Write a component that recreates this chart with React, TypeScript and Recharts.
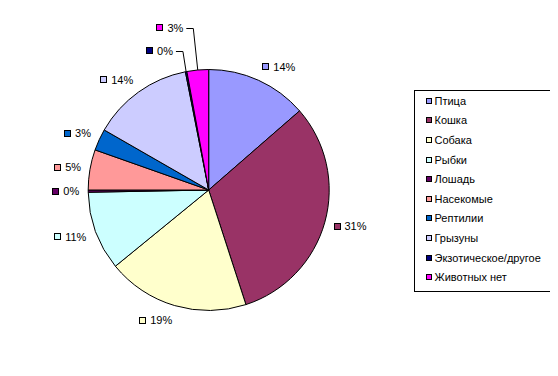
import { PieChart, Pie, Cell, Legend } from 'recharts';

const categories = ['Птица', 'Кошка', 'Собака', 'Рыбки', 'Лошадь', 'Насекомые', 'Рептилии', 'Грызуны', 'Экзотическое/другое', 'Животных нет'];
const shares = [13.6, 31.4, 19.1, 10.6, 0.3, 5.4, 2.9, 13.6, 0.2, 2.9];
const colors = ['#9999FF', '#993366', '#FFFFCC', '#CCFFFF', '#660066', '#FF9999', '#0066CC', '#CCCCFF', '#000080', '#FF00FF'];

const data = categories.map((name, i) => ({ name, value: shares[i] }));

// two labels were dragged off the pie in the original, with a leader line back
const moved: Record<number, [number, number]> = { 8: [-11.5, -6], 9: [-13.6, -27.5] };

const FONT = '"Liberation Sans", Arial, sans-serif';
const RAD = Math.PI / 180;
const textW = (s: string) => [...s].reduce((w, c) => w + (c === '%' ? 9.8 : 6.1), 0);

function PctLabel(props: any) {
  const { cx, cy, midAngle, outerRadius, percent, index } = props;
  const dx = Math.cos(-midAngle * RAD);
  const dy = Math.sin(-midAngle * RAD);
  const r = outerRadius + 9;
  const px = cx + r * dx;
  const py = cy + r * dy;
  const text = `${Math.round(percent * 100)}%`;
  const boxW = 11 + textW(text);
  let left = dx >= 0 ? px : px - boxW;
  let midY = py + dy * 6;
  let leader = null;
  const shift = moved[index];
  if (shift) {
    left += shift[0];
    midY += shift[1];
    const end = left + boxW;
    leader = (
      <polyline
        points={`${end + 3},${Math.round(midY) + 0.5} ${end + 10},${Math.round(midY) + 0.5} ${cx + outerRadius * dx},${cy + outerRadius * dy}`}
        fill="none"
        stroke="#000"
      />
    );
  }
  return (
    <g>
      {leader}
      <rect x={Math.round(left) + 0.5} y={Math.round(midY - 3.5) + 0.5} width={6} height={6} fill={colors[index]} stroke="#000" />
      <text x={left + 11} y={midY + 4} fontSize={11} fontFamily={FONT} fill="#000">{text}</text>
    </g>
  );
}

function LegendBox() {
  return (
    <div style={{ width: 139, height: 202, boxSizing: 'border-box', border: '1px solid #000', background: '#fff', fontFamily: FONT, fontSize: 11, color: '#000' }}>
      {categories.map((c, i) => (
        <div key={c} style={{ height: 19.6, display: 'flex', alignItems: 'center' }}>
          <span style={{ width: 6, height: 6, boxSizing: 'border-box', border: '1px solid #000', background: colors[i], marginLeft: 11, flexShrink: 0 }} />
          <span style={{ marginLeft: 2.5, whiteSpace: 'nowrap' }}>{c}</span>
        </div>
      ))}
    </div>
  );
}

export default function App() {
  return (
    <div style={{ width: 550, height: 368, background: '#fff', fontFamily: FONT }}>
      <PieChart width={550} height={368} margin={{ top: 0, right: 0, bottom: 0, left: 0 }}>
        <Pie
          data={data}
          dataKey="value"
          nameKey="name"
          cx={200.7}
          cy={182}
          outerRadius={120.5}
          startAngle={90}
          endAngle={-270}
          stroke="#000"
          strokeWidth={1}
          label={PctLabel}
          labelLine={false}
          isAnimationActive={false}
        >
          {data.map((d, i) => (
            <Cell key={d.name} fill={colors[i]} />
          ))}
        </Pie>
        <Legend content={LegendBox} wrapperStyle={{ left: 406, top: 82, width: 139, height: 202 }} />
      </PieChart>
    </div>
  );
}
